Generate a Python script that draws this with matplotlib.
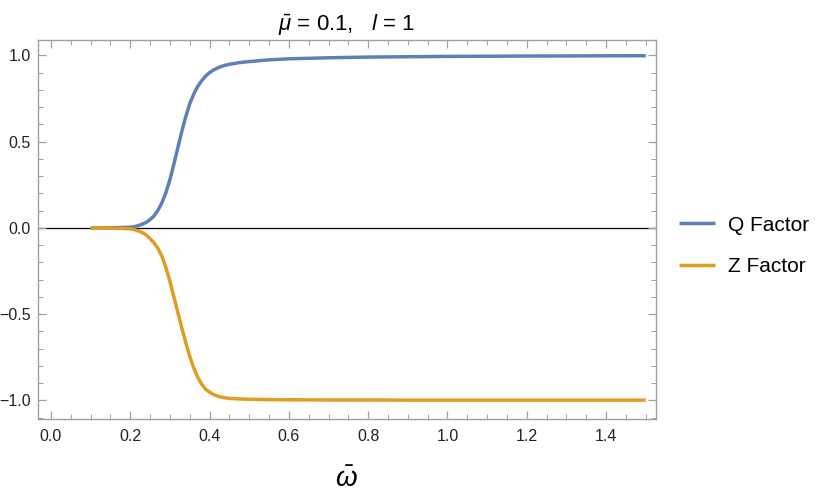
import matplotlib
matplotlib.use("Agg")
import matplotlib.pyplot as plt
from matplotlib.ticker import MultipleLocator

plt.rcParams['font.family'] = ['Liberation Sans', 'DejaVu Sans']
plt.rcParams['mathtext.fontset'] = 'custom'
plt.rcParams['mathtext.rm'] = 'Liberation Sans'
plt.rcParams['mathtext.it'] = 'Liberation Sans:italic'

omega = [0.1, 0.15, 0.2, 0.21, 0.225, 0.24, 0.25, 0.26, 0.27, 0.28, 0.29, 0.3,
         0.31, 0.32, 0.33, 0.34, 0.35, 0.36, 0.37, 0.38, 0.39, 0.4, 0.41, 0.425,
         0.44, 0.45, 0.475, 0.5, 0.55, 0.6, 0.7, 0.8, 0.9, 1.0, 1.2, 1.5]
q_factor = [0.0, 0.001, 0.004, 0.007, 0.017, 0.032, 0.048, 0.07, 0.103, 0.147, 0.205, 0.28,
            0.37, 0.465, 0.56, 0.645, 0.72, 0.775, 0.82, 0.853, 0.88, 0.9, 0.915, 0.932,
            0.943, 0.948, 0.958, 0.964, 0.974, 0.98, 0.986, 0.99, 0.992, 0.994, 0.996, 0.998]
z_factor = [0.0, -0.001, -0.005, -0.009, -0.021, -0.04, -0.062, -0.087, -0.12, -0.165, -0.23, -0.31,
            -0.4, -0.49, -0.58, -0.665, -0.745, -0.81, -0.865, -0.905, -0.935, -0.952, -0.966, -0.978,
            -0.985, -0.988, -0.991, -0.993, -0.995, -0.996, -0.997, -0.997, -0.998, -0.998, -0.998, -0.998]
labels = ["Q Factor", "Z Factor"]
colors = ["#5E81B5", "#E19C24"]

W, H = 830, 493
fig = plt.figure(figsize=(W / 100, H / 100), dpi=100)
l, r, t, b = 37.7, 656, 40, 419.3
ax = fig.add_axes([l / W, 1 - b / H, (r - l) / W, (b - t) / H])

ax.axhline(0, color="black", lw=0.9, zorder=1)
ax.plot(omega, q_factor, color=colors[0], lw=2.5, label=labels[0], zorder=3,
        solid_joinstyle='round', solid_capstyle='butt')
ax.plot(omega, z_factor, color=colors[1], lw=2.5, label=labels[1], zorder=3,
        solid_joinstyle='round', solid_capstyle='butt')

ax.set_xlim(-0.0335, 1.526)
ax.set_ylim(-1.109, 1.089)
ax.xaxis.set_major_locator(MultipleLocator(0.2))
ax.xaxis.set_minor_locator(MultipleLocator(0.05))
ax.yaxis.set_major_locator(MultipleLocator(0.5))
ax.yaxis.set_minor_locator(MultipleLocator(0.1))
ax.xaxis.set_major_formatter(matplotlib.ticker.FormatStrFormatter('%.1f'))
ax.yaxis.set_major_formatter(matplotlib.ticker.FuncFormatter(
    lambda v, p: ('\u2212' if v < -1e-9 else '') + '%.1f' % abs(v)))

frame_c = "#a0a0a0"
for s in ax.spines.values():
    s.set_color(frame_c)
    s.set_linewidth(1.0)
ax.tick_params(which='both', direction='in', top=True, right=True, color=frame_c,
               labelcolor="#222222", labelsize=11.5)
ax.tick_params(which='major', length=6, width=0.9)
ax.tick_params(which='minor', length=3.5, width=0.7)
ax.tick_params(axis='x', pad=7)
ax.tick_params(axis='y', pad=5)

cx = (l + r) / 2 / W
fig.text(cx, 1 - 31 / H, r"$\bar{\mu}$ = 0.1,   $l$ = 1", fontsize=16,
         ha='center', va='baseline')
fig.text(cx, 1 - 487 / H, r"$\bar{\omega}$", fontsize=20,
         ha='center', va='baseline')

leg = ax.legend(loc='center left', bbox_to_anchor=(660 / W, 1 - 246 / H),
                bbox_transform=fig.transFigure, frameon=False, fontsize=15,
                handlelength=1.75, handletextpad=0.62, labelspacing=1.1)

fig.savefig("out.png", dpi=100)
